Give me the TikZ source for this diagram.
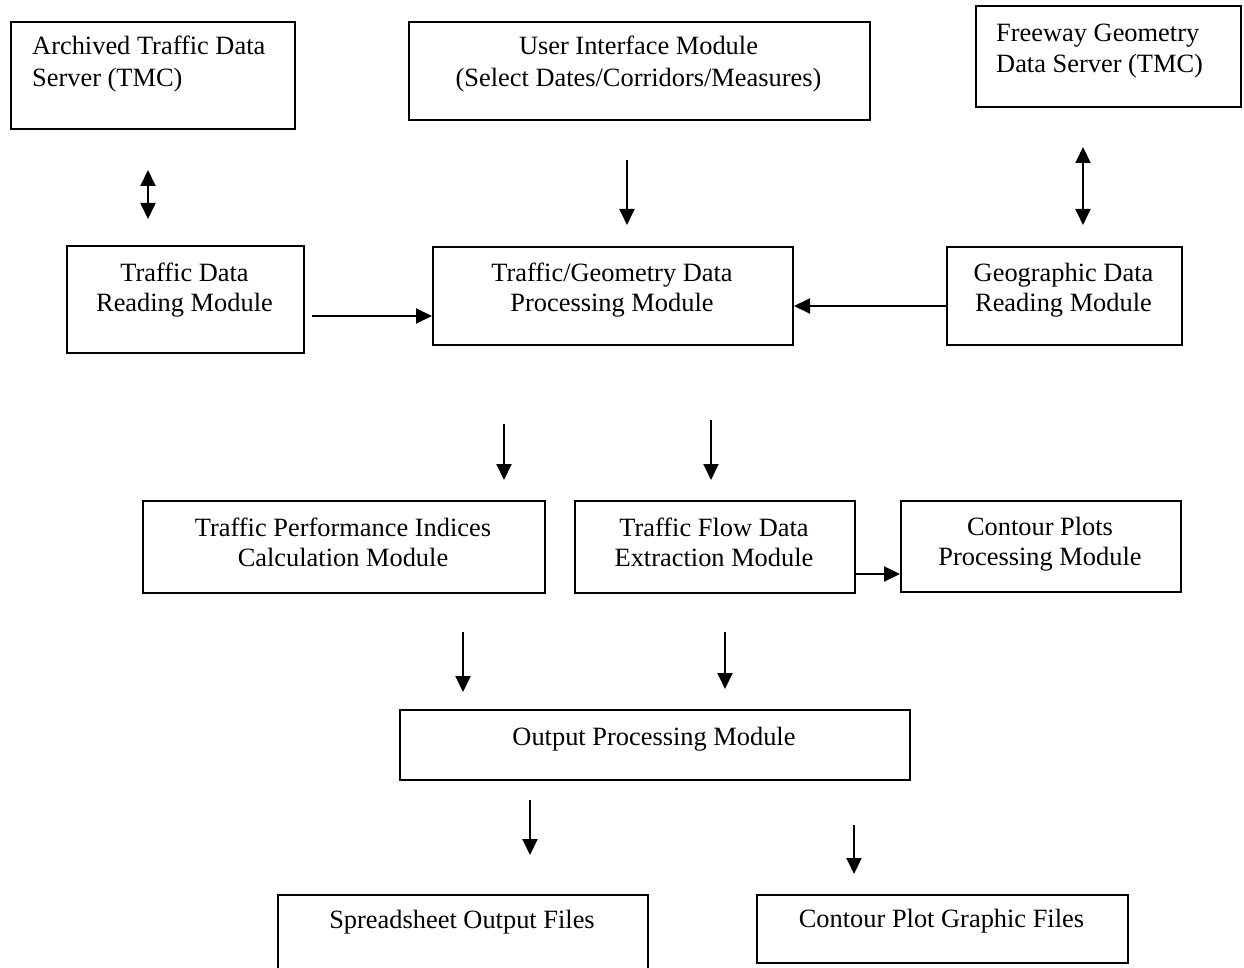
\documentclass[tikz,border=0pt]{standalone}
\usepackage{fontspec}
\setmainfont{Liberation Serif}
\usetikzlibrary{arrows.meta}

\tikzset{
  box/.style={draw=black, line width=2pt, rectangle, inner sep=0pt, anchor=north west},
  lbl/.style={inner sep=0pt, font=\fontsize{26.4}{32}\selectfont},
  tip/.tip={Triangle[length=16pt,width=15pt]},
  arr/.style={draw=black, line width=2pt, -tip},
  dbl/.style={draw=black, line width=2pt, tip-tip}
}

\begin{document}
\begin{tikzpicture}[x=1pt, y=-1pt]
\useasboundingbox (0,0) rectangle (1244,968);

% ---- module boxes ----
\node[box, minimum width=284pt, minimum height=107pt] (arch) at (10,21) {};
\node[box, minimum width=461pt, minimum height=98pt]  (ui)   at (408,21) {};
\node[box, minimum width=265pt, minimum height=101pt] (fg)   at (975,5) {};
\node[box, minimum width=237pt, minimum height=107pt] (tdr)  at (66,245) {};
\node[box, minimum width=360pt, minimum height=98pt]  (tgp)  at (432,246) {};
\node[box, minimum width=235pt, minimum height=98pt]  (gdr)  at (946,246) {};
\node[box, minimum width=402pt, minimum height=92pt]  (tpi)  at (142,500) {};
\node[box, minimum width=280pt, minimum height=92pt]  (tfd)  at (574,500) {};
\node[box, minimum width=280pt, minimum height=91pt]  (cpp)  at (900,500) {};
\node[box, minimum width=510pt, minimum height=70pt]  (opm)  at (399,709) {};
\node[box, minimum width=370pt, minimum height=90pt]  (ss)   at (277,894) {};
\node[box, minimum width=371pt, minimum height=68pt]  (cpg)  at (756,894) {};

% ---- box texts ----
\node[lbl, anchor=base west] (archA) at (32,55) {Archived Traffic Data};
\node[lbl, anchor=base west] (archB) at (32,87) {Server (TMC)};
\node[lbl, anchor=base] (uiA) at (638.5,55) {User Interface Module};
\node[lbl, anchor=base] (uiB) at (638.5,87) {(Select Dates/Corridors/Measures)};
\node[lbl, anchor=base west] (fgA) at (996,42) {Freeway Geometry};
\node[lbl, anchor=base west] (fgB) at (996,73) {Data Server (TMC)};
\node[lbl, anchor=base] (tdrA) at (184.5,281) {Traffic Data};
\node[lbl, anchor=base] (tdrB) at (184.5,311) {Reading Module};
\node[lbl, anchor=base] (tgpA) at (612,281) {Traffic/Geometry Data};
\node[lbl, anchor=base] (tgpB) at (612,311) {Processing Module};
\node[lbl, anchor=base] (gdrA) at (1063.5,281) {Geographic Data};
\node[lbl, anchor=base] (gdrB) at (1063.5,311) {Reading Module};
\node[lbl, anchor=base] (tpiA) at (343,536) {Traffic Performance Indices};
\node[lbl, anchor=base] (tpiB) at (343,566) {Calculation Module};
\node[lbl, anchor=base] (tfdA) at (714,536) {Traffic Flow Data};
\node[lbl, anchor=base] (tfdB) at (714,566) {Extraction Module};
\node[lbl, anchor=base] (cppA) at (1040,535) {Contour Plots};
\node[lbl, anchor=base] (cppB) at (1040,565) {Processing Module};
\node[lbl, anchor=base] (opmA) at (654,745) {Output Processing Module};
\node[lbl, anchor=base] (ssA)  at (462,928) {Spreadsheet Output Files};
\node[lbl, anchor=base] (cpgA) at (941.5,927) {Contour Plot Graphic Files};

% ---- connector columns / rows ----
\coordinate (xA) at (148,0);
\coordinate (xB) at (627,0);
\coordinate (xC) at (1083,0);
\coordinate (yD) at (0,316);
\coordinate (yE) at (0,306);
\coordinate (xF) at (504,0);
\coordinate (xG) at (711,0);
\coordinate (yH) at (0,574);
\coordinate (xI) at (463,0);
\coordinate (xJ) at (725,0);
\coordinate (xK) at (530,0);
\coordinate (xL) at (854,0);

% ---- connectors ----
\draw[dbl, shorten <=40pt, shorten >=26pt] (arch.south -| xA) -- (tdr.north -| xA);
\draw[arr, shorten <=39pt, shorten >=21pt] (ui.south -| xB) -- (tgp.north -| xB);
\draw[dbl, shorten <=39pt, shorten >=21pt] (fg.south -| xC) -- (gdr.north -| xC);
\draw[arr, shorten <=7pt] (tdr.east |- yD) -- (tgp.west |- yD);
\draw[arr] (gdr.west |- yE) -- (tgp.east |- yE);
\draw[arr, shorten <=78pt, shorten >=20pt] (tgp.south -| xF) -- (tpi.north -| xF);
\draw[arr, shorten <=74pt, shorten >=20pt] (tgp.south -| xG) -- (tfd.north -| xG);
\draw[arr] (tfd.east |- yH) -- (cpp.west |- yH);
\draw[arr, shorten <=38pt, shorten >=17pt] (tpi.south -| xI) -- (opm.north -| xI);
\draw[arr, shorten <=38pt, shorten >=20pt] (tfd.south -| xJ) -- (opm.north -| xJ);
\draw[arr, shorten <=19pt, shorten >=39pt] (opm.south -| xK) -- (ss.north -| xK);
\draw[arr, shorten <=44pt, shorten >=20pt] (opm.south -| xL) -- (cpg.north -| xL);
\end{tikzpicture}
\end{document}
